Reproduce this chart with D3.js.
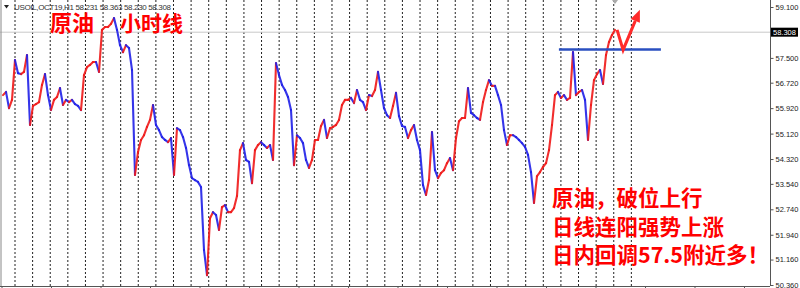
<!DOCTYPE html>
<html>
<head>
<meta charset="utf-8">
<script src="https://cdn.jsdelivr.net/npm/d3@7"></script>
<style>
  body { margin: 0; background: #fff; }
  svg { display: block; }
</style>
</head>
<body>
<script>
// hourly closes, one reading every ~4 bars, left to right
var prices = [
  56.33, 56.43, 55.92, 56.18, 57.43, 57.02, 56.99, 57.06, 57.59, 55.39,
  55.99, 56.05, 56.11, 56.65, 56.99, 56.33, 55.86, 56.18, 56.27, 56.55,
  56.02, 56.18, 56.11, 56.18, 56.05, 55.99, 55.86, 56.96, 57.21, 57.28,
  57.37, 57.37, 57.06, 58.38, 58.47, 58.47, 58.57, 58.75, 58.38, 57.90,
  57.68, 57.90, 57.81, 57.12, 53.82, 54.54, 54.92, 55.07, 55.33, 55.55,
  56.02, 55.39, 55.23, 55.01, 54.92, 54.85, 54.98, 53.82, 55.29, 55.23,
  55.01, 54.67, 54.13, 53.72, 53.66, 53.60, 53.44, 51.46, 50.67, 52.46,
  52.65, 52.56, 52.09, 52.81, 52.87, 52.65, 52.65, 52.78, 53.16, 54.60,
  54.82, 54.29, 54.23, 53.56, 54.60, 54.76, 54.85, 54.76, 54.67, 54.76,
  54.29, 57.34, 56.96, 56.65, 56.49, 56.27, 55.86, 54.13, 55.07, 54.98,
  54.82, 54.29, 54.04, 54.29, 54.92, 54.92, 55.36, 55.55, 54.98, 55.29,
  55.33, 55.39, 55.55, 56.02, 56.18, 56.18, 56.24, 56.08, 56.49, 56.18,
  56.11, 55.86, 56.33, 56.30, 56.49, 57.06, 56.49, 55.92, 55.70, 55.61,
  55.99, 56.40, 55.67, 55.36, 55.33, 54.98, 55.23, 55.39, 54.92, 54.60,
  53.50, 53.19, 53.66, 55.17, 53.97, 53.72, 53.88, 53.97, 54.19, 54.35,
  53.97, 54.98, 55.51, 55.61, 55.61, 56.55, 55.77, 55.70, 55.61, 55.55,
  56.11, 56.49, 56.80, 56.62, 56.62, 56.33, 56.02, 55.23, 54.76, 55.07,
  55.07, 55.01, 54.92, 54.82, 54.70, 54.45, 53.91, 52.94, 53.78, 53.91,
  54.07, 54.19, 54.60, 55.39, 56.33, 56.43, 56.24, 56.33, 56.18, 56.24,
  57.68, 56.33, 56.43, 56.49, 56.18, 54.92, 56.02, 56.80, 56.99, 57.12,
  56.68, 57.59, 58.00, 58.22, 58.38
];

var priceTicks = [59.100, 57.500, 56.720, 55.920, 55.120, 54.320, 53.540, 52.740, 51.940, 51.160, 50.360];
var lastPrice = 58.308;
var header = "USOIL,OCT19,H1  58.231 58.363 58.230 58.308";
var days = 36;
var pointsPerDay = 5.87;

// support line and the arrow, in (reading index, price)
var support = {from: 185.3, to: 219.3, price: 57.76};
var arrowPath = [[204.7, 58.38], [206.7, 57.75], [212.3, 59.01]];

var titleTop = ["原油", "小时线"];
var notes = ["原油，破位上行", "日线连阳强势上涨", "日内回调57.5附近多！"];

var W = 800, H = 288;
var plotRight = 770, plotBottom = 286;

var svg = d3.select("body").append("svg")
    .attr("width", W)
    .attr("height", H);

var x = d3.scaleLinear().domain([0, prices.length - 1]).range([3, 615]);
var y = d3.scaleLinear().domain([50.36, 59.1]).range([285, 7]);

// day separators
svg.append("g")
    .selectAll("line")
    .data(d3.range(days))
    .enter()
    .append("line")
      .attr("x1", function(d) { return x(4 + d * pointsPerDay); })
      .attr("x2", function(d) { return x(4 + d * pointsPerDay); })
      .attr("y1", 0)
      .attr("y2", plotBottom)
      .attr("stroke", "#222")
      .attr("stroke-width", 1)
      .attr("stroke-dasharray", "2,2");

// current price line
svg.append("line")
    .attr("x1", 0).attr("x2", plotRight)
    .attr("y1", y(lastPrice)).attr("y2", y(lastPrice))
    .attr("stroke", "#c8c8c8");

// price, red when rising, blue when falling
var segs = d3.pairs(prices.map(function(p, i) { return {i: i, p: p}; }));
svg.append("g")
    .selectAll("line")
    .data(segs)
    .enter()
    .append("line")
      .attr("x1", function(d) { return x(d[0].i); })
      .attr("y1", function(d) { return y(d[0].p); })
      .attr("x2", function(d) { return x(d[1].i); })
      .attr("y2", function(d) { return y(d[1].p); })
      .attr("stroke", function(d) { return d[1].p >= d[0].p ? "#f01818" : "#2020e8"; })
      .attr("stroke-width", 2.1)
      .attr("stroke-linecap", "round")
      .attr("opacity", 0.9);

// frame and axes
svg.append("line")
    .attr("x1", 1).attr("x2", 1).attr("y1", 0).attr("y2", plotBottom)
    .attr("stroke", "#888");
svg.append("line")
    .attr("x1", 0).attr("x2", plotRight).attr("y1", plotBottom + 0.5).attr("y2", plotBottom + 0.5)
    .attr("stroke", "#555");
svg.append("line")
    .attr("x1", plotRight + 0.5).attr("x2", plotRight + 0.5).attr("y1", 0).attr("y2", plotBottom)
    .attr("stroke", "#555");

// bottom time ticks
svg.append("g")
    .selectAll("line")
    .data(d3.range(0, 260, 16.5))
    .enter()
    .append("line")
      .attr("x1", function(d) { return x(d) - 1; })
      .attr("x2", function(d) { return x(d) - 1; })
      .attr("y1", plotBottom)
      .attr("y2", H)
      .attr("stroke", "#555");

var yAxis = svg.append("g")
    .attr("transform", "translate(" + (plotRight + 0.5) + ",0)")
    .call(d3.axisRight(y)
        .tickValues(priceTicks)
        .tickFormat(d3.format(".3f"))
        .tickSize(3)
        .tickPadding(2));
yAxis.select(".domain").remove();
yAxis.selectAll("line").attr("stroke", "#555");
yAxis.selectAll("text")
    .attr("fill", "#222")
    .style("font-family", "'Liberation Sans', Arial, sans-serif")
    .style("font-size", "7.5px");

// last price tag
svg.append("rect")
    .attr("x", plotRight + 1).attr("y", y(lastPrice) - 4.5)
    .attr("width", 27).attr("height", 9)
    .attr("fill", "#000");
svg.append("text")
    .attr("x", plotRight + 3).attr("y", y(lastPrice) + 3)
    .attr("fill", "#fff")
    .style("font-family", "'Liberation Sans', Arial, sans-serif")
    .style("font-size", "7.5px")
    .text(d3.format(".3f")(lastPrice));

// shift marker
svg.append("path")
    .attr("d", "M" + (x(204) - 3) + ",0L" + (x(204) + 3) + ",0L" + x(204) + ",4Z")
    .attr("fill", "#aaa");

// header
svg.append("path")
    .attr("d", "M4,5L9,5L6.5,8.5Z")
    .attr("fill", "#222");
svg.append("text")
    .attr("x", 14).attr("y", 10)
    .attr("fill", "#333")
    .style("font-family", "'Liberation Sans', Arial, sans-serif")
    .style("font-size", "8px")
    .attr("textLength", 157)
    .text(header);

// support line
svg.append("line")
    .attr("x1", x(support.from)).attr("x2", x(support.to))
    .attr("y1", y(support.price)).attr("y2", y(support.price))
    .attr("stroke", "#2a4fc0")
    .attr("stroke-width", 2.5);

// red arrow
var ap = arrowPath.map(function(d) { return [x(d[0]), y(d[1])]; });
var tip = ap[2], base = ap[1];
var dx = tip[0] - base[0], dy = tip[1] - base[1], len = Math.sqrt(dx * dx + dy * dy);
var ux = dx / len, uy = dy / len;
var hb = [tip[0] - 12 * ux, tip[1] - 12 * uy];
svg.append("path")
    .attr("d", d3.line()([ap[0], ap[1], [hb[0], hb[1]]]))
    .attr("fill", "none")
    .attr("stroke", "#ff2a2a")
    .attr("stroke-width", 3)
    .attr("stroke-linejoin", "miter");
svg.append("path")
    .attr("d", d3.line()([tip, [hb[0] - 5 * uy, hb[1] + 5 * ux], [hb[0] + 5 * uy, hb[1] - 5 * ux]]) + "Z")
    .attr("fill", "#ff2a2a");

// red annotations
var cjk = "'Noto Sans CJK SC', 'Noto Sans', sans-serif";
svg.append("text")
    .attr("x", 50).attr("y", 30.5)
    .attr("fill", "#ff0000")
    .style("font-family", cjk)
    .style("font-weight", "bold")
    .style("font-size", "22px")
    .text(titleTop[0]);
svg.append("text")
    .attr("x", 120).attr("y", 30.5)
    .attr("fill", "#ff0000")
    .style("font-family", cjk)
    .style("font-weight", "bold")
    .style("font-size", "21px")
    .text(titleTop[1]);

svg.append("g")
    .selectAll("text")
    .data(notes)
    .enter()
    .append("text")
      .attr("x", 552)
      .attr("y", function(d, i) { return 206 + i * 28.5; })
      .attr("fill", "#ff0000")
      .style("font-family", cjk)
      .style("font-weight", "bold")
      .style("font-size", "21.5px")
      .text(function(d) { return d; });
</script>
</body>
</html>
